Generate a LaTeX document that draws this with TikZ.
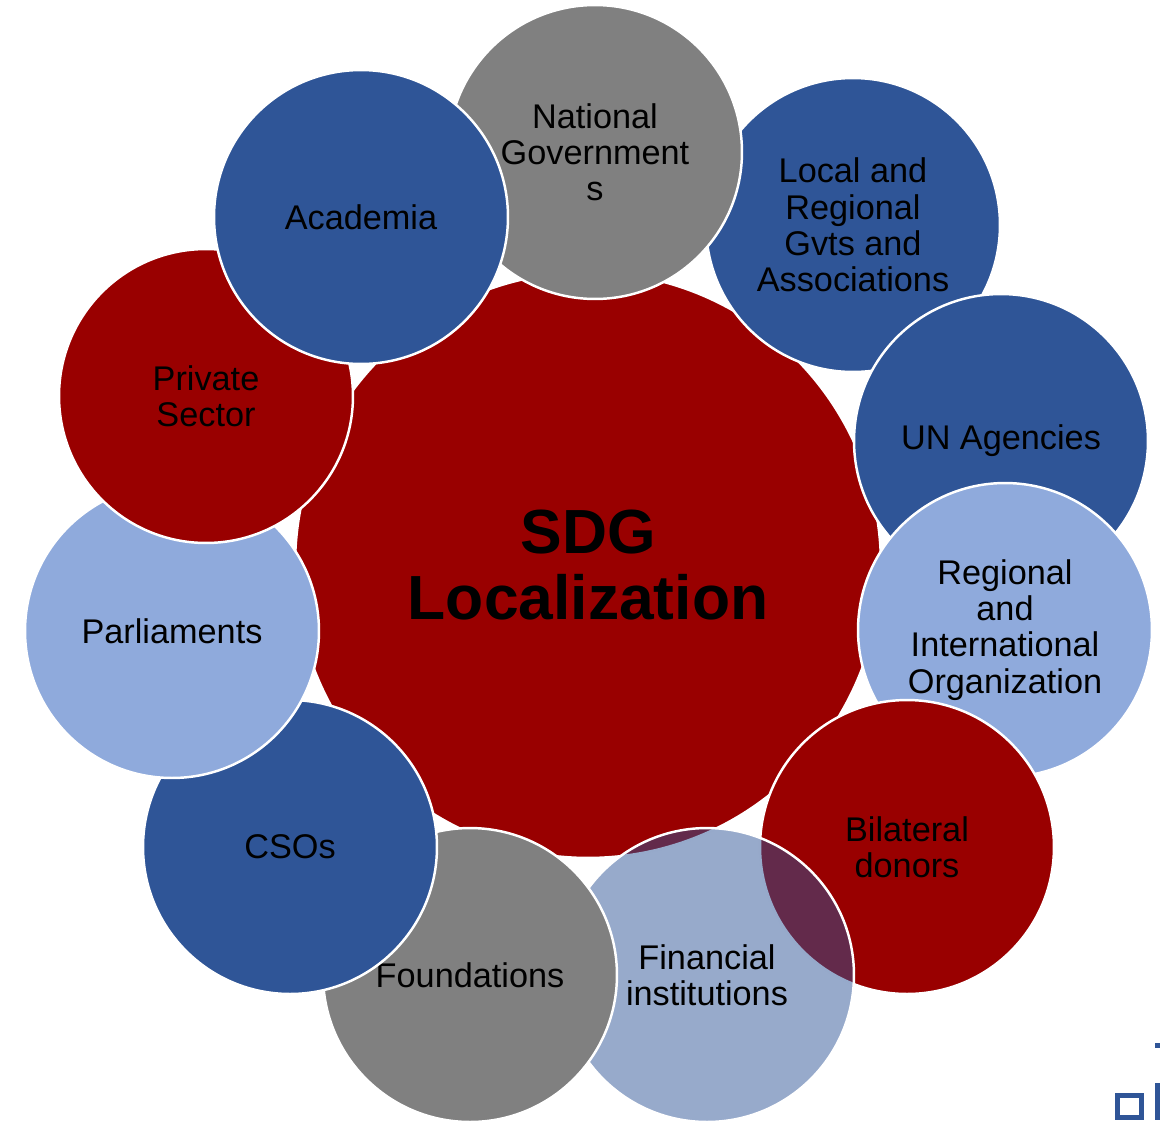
\documentclass[tikz,border=0pt]{standalone}
\usepackage{fontspec}
\setmainfont{Liberation Sans}
\definecolor{sdgred}{HTML}{990000}
\definecolor{sdgblue}{HTML}{2F5597}
\definecolor{sdggray}{HTML}{808080}
\definecolor{sdglight}{HTML}{8FAADC}
\begin{document}
\begin{tikzpicture}[x=0.02cm,y=-0.02cm]
\tikzstyle{every node}+=[inner sep=0pt]
\tikzstyle{actor}=[circle, draw=white, line width=1.4pt, minimum size=5.88cm,
  align=center, font=\fontsize{19.5}{20.6}\selectfont]
\useasboundingbox (0,0) rectangle (1160,1120);
\node [circle, fill=sdgred, draw=white, line width=1.4pt, minimum size=11.72cm, align=center,
  font=\fontsize{35.5}{37.5}\selectfont\bfseries] (sdg) at (588,565) {SDG\\Localization};
\node [actor, fill=sdgblue] (local) at (853,225) {Local and\\Regional\\Gvts and\\Associations};
\node [actor, fill=sdgblue] (un) at (1001,441) {UN Agencies};
\node [actor, fill=sdglight] (regio) at (1005,630) {Regional\\and\\International\\Organization};
\node [actor, fill=sdgred] (bilat) at (907,847) {Bilateral\\donors};
\node [actor, fill=sdgblue, fill opacity=0.5, text opacity=1] (finan) at (707,975) {Financial\\institutions};
\node [actor, fill=sdggray] (found) at (470,975) {Foundations};
\node [actor, fill=sdgblue] (cso) at (290,847) {CSOs};
\node [actor, fill=sdglight] (parl) at (172,631) {Parliaments};
\node [actor, fill=sdgred] (priv) at (206,396) {Private\\Sector};
\node [actor, fill=sdggray] (natgov) at (595,152) {National\\Government\\s};
\node [actor, fill=sdgblue] (acad) at (361,217) {Academia};
% cut-off logo, bottom right
\draw [sdgblue, line width=0.1cm] (1117,1095) rectangle (1141,1117);
\fill [sdgblue] (1155,1083) rectangle (1160,1120);
\fill [sdgblue] (1155,1043) rectangle (1160,1048);
\end{tikzpicture}
\end{document}
